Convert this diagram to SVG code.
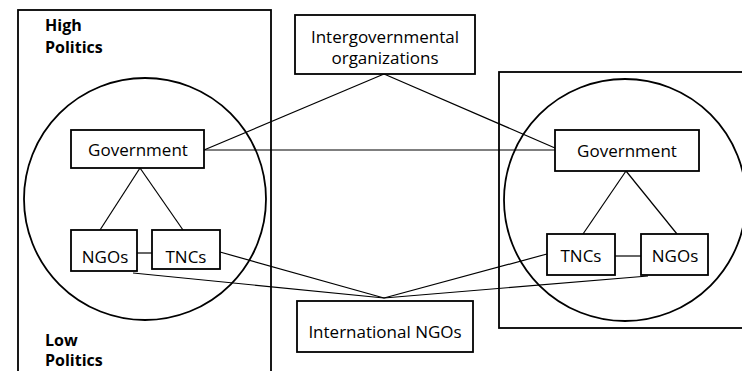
<svg xmlns="http://www.w3.org/2000/svg" width="742" height="371" viewBox="0 0 742 371">
<style>
.box{fill:#fff;stroke:#000;stroke-width:1.8}
.frame{fill:none;stroke:#000;stroke-width:1.8}
.circ{fill:none;stroke:#000;stroke-width:1.8}
.ln{fill:none;stroke:#000;stroke-width:1.2}
.t{font-family:"Open Sans","Liberation Sans",sans-serif;font-size:17px;fill:#000;text-anchor:middle}
.h{font-family:"Open Sans","Liberation Sans",sans-serif;font-size:16px;font-weight:bold;fill:#000}
</style>
<rect width="742" height="371" fill="#fff"/>
<g id="left-frame">
<rect class="frame" x="18" y="10" width="253" height="370"/>
<text class="h" x="45" y="31">High</text>
<text class="h" x="45" y="53">Politics</text>
<text class="h" x="45" y="346">Low</text>
<text class="h" x="45" y="366">Politics</text>
</g>
<g id="right-frame">
<rect class="frame" x="499" y="72" width="250" height="256"/>
</g>
<g id="left-circle"><circle class="circ" cx="145" cy="199" r="121"/></g>
<g id="right-circle"><circle class="circ" cx="625" cy="200" r="121"/></g>
<g id="connectors">
<line class="ln" x1="384" y1="74" x2="204" y2="150"/>
<line class="ln" x1="384" y1="74" x2="555" y2="148"/>
<line class="ln" x1="204" y1="150" x2="555" y2="150"/>
<line class="ln" x1="140" y1="168" x2="100" y2="230"/>
<line class="ln" x1="140" y1="168" x2="183" y2="230"/>
<line class="ln" x1="137" y1="253" x2="152" y2="253"/>
<line class="ln" x1="626" y1="171" x2="583" y2="234"/>
<line class="ln" x1="626" y1="171" x2="677" y2="234"/>
<line class="ln" x1="615" y1="256" x2="641" y2="256"/>
<line class="ln" x1="220" y1="252" x2="384" y2="298"/>
<line class="ln" x1="133" y1="273" x2="384" y2="298"/>
<line class="ln" x1="547" y1="254" x2="384" y2="298"/>
<line class="ln" x1="648" y1="276" x2="384" y2="298"/>
</g>
<g id="igo">
<rect class="box" x="295" y="15" width="180" height="59"/>
<text class="t" x="385" y="43">Intergovernmental</text>
<text class="t" x="385" y="64">organizations</text>
</g>
<g id="ingo">
<rect class="box" x="297" y="301" width="176" height="51"/>
<text class="t" x="385" y="338">International NGOs</text>
</g>
<g id="left-government">
<rect class="box" x="71" y="130" width="133" height="38"/>
<text class="t" x="138" y="156">Government</text>
</g>
<g id="left-ngos">
<rect class="box" x="71" y="230" width="66" height="41"/>
<text class="t" x="105" y="263">NGOs</text>
</g>
<g id="left-tncs">
<rect class="box" x="152" y="230" width="68" height="39"/>
<text class="t" x="186" y="263">TNCs</text>
</g>
<g id="right-government">
<rect class="box" x="555" y="130" width="144" height="41"/>
<text class="t" x="627" y="157">Government</text>
</g>
<g id="right-tncs">
<rect class="box" x="547" y="234" width="68" height="41"/>
<text class="t" x="581" y="262">TNCs</text>
</g>
<g id="right-ngos">
<rect class="box" x="641" y="234" width="67" height="41"/>
<text class="t" x="675" y="262">NGOs</text>
</g>
</svg>
